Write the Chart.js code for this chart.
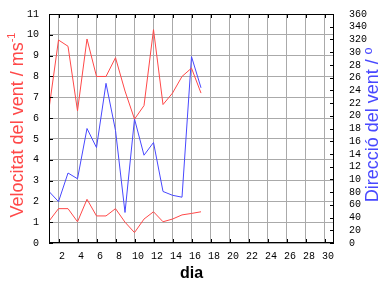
<!DOCTYPE html>
<html>
<head>
<meta charset="utf-8">
<script src="https://cdn.jsdelivr.net/npm/chart.js@4/dist/chart.umd.min.js"></script>
<style>
html,body{margin:0;padding:0;background:#fff;}
#wrap{width:384px;height:288px;position:relative;}
</style>
</head>
<body>
<div id="wrap"><canvas id="c" width="384" height="288"></canvas></div>
<script>
const days = [1,2,3,4,5,6,7,8,9,10,11,12,13,14,15,16,17];
const velMax = [6.45,9.75,9.45,6.35,9.8,8.0,8.0,8.9,7.3,5.95,6.6,10.25,6.65,7.2,8.0,8.4,7.2];
const velMin = [1.05,1.65,1.65,1.02,2.1,1.3,1.3,1.65,1.0,0.5,1.15,1.5,1.02,1.15,1.35,1.42,1.5];
const dirVent = [81,65,110,101,180,150,251,177,48,195,138,158,81,75,72,293,244];
const xTicks = [2,4,6,8,10,12,14,16,18,20,22,24,26,28,30];
const velTicks = [0,1,2,3,4,5,6,7,8,9,10,11];
const dirTicks = [0,20,40,60,80,100,120,140,160,180,200,220,240,260,280,300,320,340,360];
const xTitle = 'dia';
const leftTitle = 'Velocitat del vent / ms';
const leftSup = '-1';
const rightTitle = 'Direcció del vent / º';

const RED = '#ff4848';
const BLUE = '#4848ff';
const tickFont = {family:'Liberation Mono', size:10};

const pts = arr => arr.map((v,i)=>({x:days[i], y:v}));

const framePlugin = {
  id:'frame',
  afterDraw(chart){
    const ctx = chart.ctx;
    const a = chart.chartArea;
    const xs = chart.scales.x, ys = chart.scales.y, y2 = chart.scales.y2;
    ctx.save();
    ctx.strokeStyle = '#000';
    ctx.lineWidth = 1;
    ctx.beginPath();
    xTicks.forEach(d=>{
      const px = Math.round(xs.getPixelForValue(d)) + 0.5;
      ctx.moveTo(px, a.bottom); ctx.lineTo(px, a.bottom-4);
      ctx.moveTo(px, a.top); ctx.lineTo(px, a.top+4);
    });
    velTicks.forEach(v=>{
      const py = Math.round(ys.getPixelForValue(v)) + 0.5;
      ctx.moveTo(a.left, py); ctx.lineTo(a.left+4, py);
    });
    dirTicks.forEach(v=>{
      const py = Math.round(y2.getPixelForValue(v)) + 0.5;
      ctx.moveTo(a.right, py); ctx.lineTo(a.right-4, py);
    });
    ctx.stroke();
    ctx.strokeRect(Math.round(a.left)+0.5, Math.round(a.top)+0.5, Math.round(a.right-a.left)-1, Math.round(a.bottom-a.top)-1);

    // left title
    ctx.save();
    ctx.translate(23, 125);
    ctx.rotate(-Math.PI/2);
    ctx.fillStyle = RED;
    ctx.textAlign = 'left';
    ctx.textBaseline = 'alphabetic';
    ctx.font = '18px "Liberation Sans"';
    const w1 = ctx.measureText(leftTitle).width;
    ctx.font = '11px "Liberation Sans"';
    const w2 = ctx.measureText(leftSup).width;
    const sx = -(w1+w2)/2;
    ctx.font = '18px "Liberation Sans"';
    ctx.fillText(leftTitle, sx, 0);
    ctx.font = '11px "Liberation Sans"';
    ctx.fillText(leftSup, sx+w1, -8);
    ctx.restore();

    // right title
    ctx.save();
    ctx.translate(378, 125);
    ctx.rotate(-Math.PI/2);
    ctx.font = '18px "Liberation Sans"';
    const w3 = ctx.measureText(rightTitle).width;
    ctx.fillStyle = '#fff';
    ctx.fillRect(-w3/2-2, -17, w3+4, 21);
    ctx.fillStyle = BLUE;
    ctx.textAlign = 'center';
    ctx.textBaseline = 'alphabetic';
    ctx.fillText(rightTitle, 0, 0);
    ctx.restore();

    // x title
    ctx.fillStyle = '#000';
    ctx.font = 'bold 16px "Liberation Sans"';
    ctx.textAlign = 'center';
    ctx.textBaseline = 'alphabetic';
    ctx.fillText(xTitle, (a.left+a.right)/2, 278);
    ctx.restore();
  }
};

new Chart(document.getElementById('c'), {
  type:'line',
  data:{
    datasets:[
      {data:pts(velMax), yAxisID:'y', borderColor:RED, borderWidth:1, pointRadius:0, tension:0},
      {data:pts(velMin), yAxisID:'y', borderColor:RED, borderWidth:1, pointRadius:0, tension:0},
      {data:pts(dirVent), yAxisID:'y2', borderColor:BLUE, borderWidth:1, pointRadius:0, tension:0}
    ]
  },
  options:{
    responsive:false,
    animation:false,
    events:[],
    layout:{padding:{top:14,left:0,right:0,bottom:0}},
    plugins:{legend:{display:false}, tooltip:{enabled:false}, title:{display:false}},
    scales:{
      x:{
        type:'linear', min:1, max:31,
        afterBuildTicks(s){ s.ticks = xTicks.map(v=>({value:v})); },
        afterFit(s){ s.height = 45; },
        grid:{color:'#aaaaaa', drawTicks:false, lineWidth:1},
        border:{display:false},
        ticks:{font:tickFont, color:'#000', padding:7, labelOffset:3.5, maxRotation:0, autoSkip:false}
      },
      y:{
        position:'left', min:0, max:11,
        afterBuildTicks(s){ s.ticks = velTicks.map(v=>({value:v})); },
        afterFit(s){ s.width = 49; },
        grid:{color:'#aaaaaa', drawTicks:true, tickLength:10, tickColor:'rgba(0,0,0,0)', lineWidth:1},
        border:{display:false},
        ticks:{font:tickFont, color:'#000', padding:0, autoSkip:false}
      },
      y2:{
        position:'right', min:0, max:360,
        afterBuildTicks(s){ s.ticks = dirTicks.map(v=>({value:v})); },
        afterFit(s){ s.width = 50; },
        grid:{display:false, drawTicks:true, tickLength:15},
        border:{display:false},
        ticks:{font:tickFont, color:'#000', padding:0, autoSkip:false}
      }
    }
  },
  plugins:[framePlugin]
});
</script>
</body>
</html>
